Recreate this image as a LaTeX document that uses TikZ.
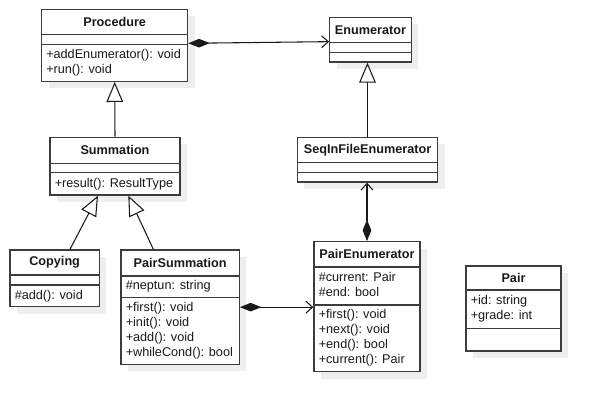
\documentclass[tikz,border=0pt]{standalone}
\usepackage{fontspec}
\setmainfont{Liberation Sans}
\usetikzlibrary{arrows.meta,fit}
\definecolor{bd}{RGB}{60,60,60}
\definecolor{shd}{RGB}{238,238,238}
\tikzset{
 box/.style={draw=bd, line width=1pt, inner sep=0pt, fill=white},
 ttl/.style={font=\fontsize{9.5pt}{11pt}\selectfont\bfseries, inner sep=0pt, text=black!90},
 mem/.style={font=\fontsize{9.5pt}{11pt}\selectfont, inner sep=0pt, anchor=west, text=black!90},
 div/.style={draw=bd, line width=1pt},
 conn/.style={draw=black!90, line width=0.8pt},
 gen/.style={conn, -{Triangle[open, length=15pt, width=12.5pt, fill=white]}},
 comp/.style={conn, {Diamond[length=16pt,width=6.5pt]}-{Straight Barb[length=5pt,width=9pt]}},
}
\newcommand\umlbox[5]{%
 \fill[shd] (#2+7,#3+7) rectangle (#4+7,#5+7);
 \node[box, fit={(#2,#3) (#4,#5)}] (#1) {};
}
\newcommand\umldiv[2]{\draw[div] (#1.west |- 0,#2) -- (#1.east |- 0,#2);}
\begin{document}
\begin{tikzpicture}[x=0.75pt,y=-0.75pt]
\useasboundingbox (0,0) rectangle (601,412);
% Procedure
\umlbox{proc}{41.7}{9.3}{187.7}{81.3}
\umldiv{proc}{34.3}\umldiv{proc}{44.3}
\node[ttl] (proc-t) at (proc.center |- 0,22) {Procedure};
\node[mem] (proc-m1) at (46,55) {+addEnumerator(): void};
\node[mem] (proc-m2) at (46,70) {+run(): void};
% Summation
\umlbox{summ}{50}{137.3}{180}{195}
\umldiv{summ}{163.3}\umldiv{summ}{172.7}
\node[ttl] (summ-t) at (summ.center |- 0,150.3) {Summation};
\node[mem] (summ-m1) at (54.5,183.8) {+result(): ResultType};
% Enumerator
\umlbox{enum}{329.7}{17.3}{411.3}{62}
\umldiv{enum}{42.7}\umldiv{enum}{52.3}
\node[ttl] (enum-t) at (enum.center |- 0,30) {Enumerator};
% SeqInFileEnumerator
\umlbox{seq}{297.3}{137.3}{437.7}{182}
\umldiv{seq}{162.7}\umldiv{seq}{172.7}
\node[ttl] (seq-t) at (seq.center |- 0,150) {SeqInFileEnumerator};
% Copying
\umlbox{copy}{10}{250}{99.3}{306.7}
\umldiv{copy}{275}\umldiv{copy}{285}
\node[ttl] (copy-t) at (copy.center |- 0,262.7) {Copying};
\node[mem] (copy-m1) at (14.5,296) {\#add(): void};
% PairSummation
\umlbox{psum}{121}{250}{239.3}{364.3}
\umldiv{psum}{276}\umldiv{psum}{297.7}
\node[ttl] (psum-t) at (psum.center |- 0,262.7) {PairSummation};
\node[mem] (psum-a1) at (125.5,286.5) {\#neptun: string};
\node[mem] (psum-m1) at (125.5,308.5) {+first(): void};
\node[mem] (psum-m2) at (125.5,323.3) {+init(): void};
\node[mem] (psum-m3) at (125.5,338) {+add(): void};
\node[mem] (psum-m4) at (125.5,353) {+whileCond(): bool};
% PairEnumerator
\umlbox{penum}{314}{241.7}{420}{371.7}
\umldiv{penum}{267}\umldiv{penum}{305}
\node[ttl] (penum-t) at (penum.center |- 0,254.3) {PairEnumerator};
\node[mem] (penum-a1) at (318.5,277.3) {\#current: Pair};
\node[mem] (penum-a2) at (318.5,292) {\#end: bool};
\node[mem] (penum-m1) at (318.5,315.7) {+first(): void};
\node[mem] (penum-m2) at (318.5,330.5) {+next(): void};
\node[mem] (penum-m3) at (318.5,345.5) {+end(): bool};
\node[mem] (penum-m4) at (318.5,360.7) {+current(): Pair};
% Pair
\umlbox{pair}{466}{266}{561}{351}
\umldiv{pair}{290}\umldiv{pair}{328.7}
\node[ttl] (pair-t) at (pair.center |- 0,278.3) {Pair};
\node[mem] (pair-a1) at (470.5,301) {+id: string};
\node[mem] (pair-a2) at (470.5,316) {+grade: int};
% connectors
\draw[comp] ([yshift=1.5pt]proc.east) -- ([yshift=-1.5pt]enum.west);
\draw[gen] (summ.north) -- (proc.south);
\draw[gen] ([xshift=11.5pt]copy.north) -- ([xshift=-12.75pt]summ.south);
\draw[gen] ([xshift=-20.1pt]psum.north) -- ([xshift=10pt]summ.south);
\draw[gen] (seq.north) -- (seq.north |- enum.south);
\draw[comp] (penum.north) -- (penum.north |- seq.south);
\draw[comp] (psum.east) -- (psum.east -| penum.west);
\end{tikzpicture}
\end{document}
